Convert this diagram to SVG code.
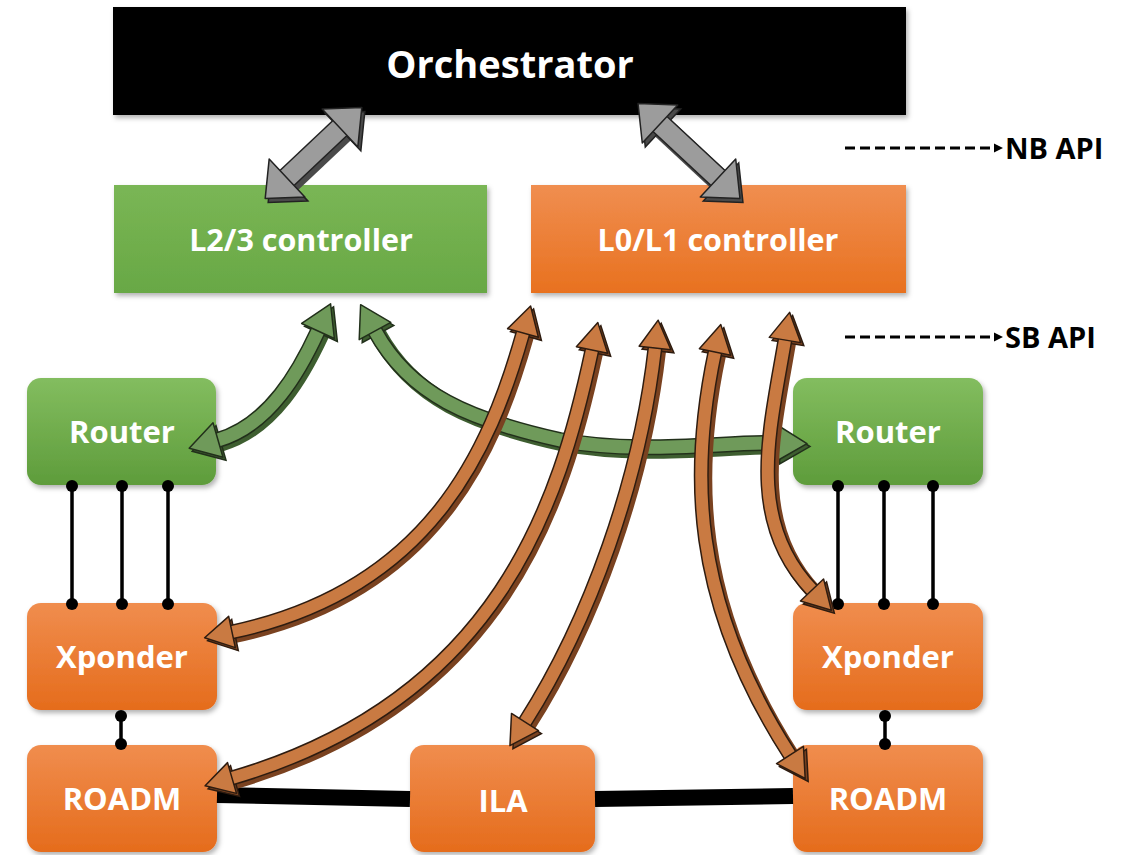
<svg xmlns="http://www.w3.org/2000/svg" width="1125" height="855" viewBox="0 0 1125 855">
  <style>
    .lbl { font-family: "Open Sans", Lato, "Liberation Sans", sans-serif; font-weight: bold; fill: #ffffff; text-anchor: middle; dominant-baseline: central; }
    .api { font-family: "Open Sans", Lato, "Liberation Sans", sans-serif; font-weight: bold; fill: #000000; font-size: 29px; dominant-baseline: central; }
    .link { stroke: #000; stroke-width: 3.5; fill: none; }
    .dot { fill: #000; }
    .dash { stroke: #000; stroke-width: 3; stroke-dasharray: 10 5; fill: none; }
    .o-side { fill: none; stroke: #7a4220; stroke-width: 16; transform: translate(3px, 3px); }
    .o-edge { fill: none; stroke: #2e1c10; stroke-width: 15; }
    .o-face { fill: none; stroke: #c97a42; stroke-width: 12; }
    .g-side { fill: none; stroke: #3e5e30; stroke-width: 17; transform: translate(3px, 3px); }
    .g-edge { fill: none; stroke: #22301b; stroke-width: 16; }
    .g-face { fill: none; stroke: #6f9a5a; stroke-width: 13; }
    .k-side { fill: none; stroke: #4a4a4a; stroke-width: 23; transform: translate(3px, 4px); }
    .k-edge { fill: none; stroke: #222; stroke-width: 22; }
    .k-face { fill: none; stroke: #9c9c9c; stroke-width: 19; }
  </style>
  <defs>
    <linearGradient id="gOrange" x1="0" y1="0" x2="0" y2="1">
      <stop offset="0" stop-color="#f08d4e"/>
      <stop offset="1" stop-color="#e56c1c"/>
    </linearGradient>
    <linearGradient id="gGreen" x1="0" y1="0" x2="0" y2="1">
      <stop offset="0" stop-color="#83bd5f"/>
      <stop offset="1" stop-color="#5e9c3b"/>
    </linearGradient>
    <linearGradient id="gCtlGreen" x1="0" y1="0" x2="0" y2="1">
      <stop offset="0" stop-color="#7ab655"/>
      <stop offset="1" stop-color="#68a845"/>
    </linearGradient>
    <linearGradient id="gCtlOrange" x1="0" y1="0" x2="0" y2="1">
      <stop offset="0" stop-color="#f08e50"/>
      <stop offset="1" stop-color="#e8711f"/>
    </linearGradient>
    <filter id="shadow" x="-10%" y="-10%" width="125%" height="130%">
      <feDropShadow dx="2" dy="3" stdDeviation="2.5" flood-color="#000" flood-opacity="0.3"/>
    </filter>

    <!-- arrowheads: face and side colours per arrow family -->
    <marker id="hO" viewBox="-2 -20 34 40" markerWidth="34" markerHeight="40" refX="0" refY="0" orient="auto-start-reverse" markerUnits="userSpaceOnUse">
      <path d="M0,-16 L28,0 L0,16 Z" fill="#c97a42" stroke="#2e1c10" stroke-width="1.5" stroke-linejoin="round"/>
    </marker>
    <marker id="hOs" viewBox="-2 -20 34 40" markerWidth="34" markerHeight="40" refX="0" refY="0" orient="auto-start-reverse" markerUnits="userSpaceOnUse">
      <path d="M0,-16 L28,0 L0,16 Z" fill="#7a4220" stroke="#2e1c10" stroke-width="1.5"/>
    </marker>
    <marker id="hG" viewBox="-2 -22 36 44" markerWidth="36" markerHeight="44" refX="0" refY="0" orient="auto-start-reverse" markerUnits="userSpaceOnUse">
      <path d="M0,-18 L30,0 L0,18 Z" fill="#6f9a5a" stroke="#22301b" stroke-width="1.5" stroke-linejoin="round"/>
    </marker>
    <marker id="hGs" viewBox="-2 -22 36 44" markerWidth="36" markerHeight="44" refX="0" refY="0" orient="auto-start-reverse" markerUnits="userSpaceOnUse">
      <path d="M0,-18 L30,0 L0,18 Z" fill="#3e5e30" stroke="#22301b" stroke-width="1.5"/>
    </marker>
    <marker id="hK" viewBox="-2 -30 36 60" markerWidth="36" markerHeight="60" refX="0" refY="0" orient="auto-start-reverse" markerUnits="userSpaceOnUse">
      <path d="M0,-26 L30,0 L0,26 Z" fill="#9c9c9c" stroke="#222" stroke-width="1.5" stroke-linejoin="round"/>
    </marker>
    <marker id="hKs" viewBox="-2 -30 36 60" markerWidth="36" markerHeight="60" refX="0" refY="0" orient="auto-start-reverse" markerUnits="userSpaceOnUse">
      <path d="M0,-26 L30,0 L0,26 Z" fill="#4a4a4a" stroke="#222" stroke-width="1.5"/>
    </marker>
    <marker id="hApi" viewBox="0 -5 10 10" markerWidth="10" markerHeight="10" refX="0" refY="0" orient="auto" markerUnits="userSpaceOnUse">
      <path d="M0,-4.5 L9,0 L0,4.5 Z" fill="#000"/>
    </marker>
  </defs>

  <rect width="1125" height="855" fill="#ffffff"/>

  <!-- node boxes -->
  <g id="orchestrator">
    <rect x="113" y="7" width="793" height="108" fill="#000" filter="url(#shadow)"/>
    <text class="lbl" x="510" y="63" font-size="38">Orchestrator</text>
  </g>
  <g id="l23-controller">
    <rect x="114" y="185" width="373" height="108" fill="url(#gCtlGreen)" filter="url(#shadow)"/>
    <text class="lbl" x="301" y="239" font-size="30.5">L2/3 controller</text>
  </g>
  <g id="l01-controller">
    <rect x="531" y="185" width="375" height="108" fill="url(#gCtlOrange)" filter="url(#shadow)"/>
    <text class="lbl" x="718" y="239" font-size="30.5">L0/L1 controller</text>
  </g>
  <g id="router-left">
    <rect x="27" y="378" width="189" height="107" rx="14" fill="url(#gGreen)" filter="url(#shadow)"/>
    <text class="lbl" x="122" y="431" font-size="31">Router</text>
  </g>
  <g id="router-right">
    <rect x="793" y="378" width="190" height="107" rx="14" fill="url(#gGreen)" filter="url(#shadow)"/>
    <text class="lbl" x="888" y="431" font-size="31">Router</text>
  </g>
  <g id="xponder-left">
    <rect x="27" y="603" width="190" height="107" rx="14" fill="url(#gOrange)" filter="url(#shadow)"/>
    <text class="lbl" x="122" y="656" font-size="31">Xponder</text>
  </g>
  <g id="xponder-right">
    <rect x="793" y="603" width="190" height="107" rx="14" fill="url(#gOrange)" filter="url(#shadow)"/>
    <text class="lbl" x="888" y="656" font-size="31">Xponder</text>
  </g>
  <g id="roadm-left">
    <rect x="27" y="745" width="190" height="107" rx="14" fill="url(#gOrange)" filter="url(#shadow)"/>
    <text class="lbl" x="122" y="798" font-size="31">ROADM</text>
  </g>
  <g id="ila">
    <rect x="410" y="745" width="185" height="107" rx="14" fill="url(#gOrange)" filter="url(#shadow)"/>
    <text class="lbl" x="503" y="800" font-size="31">ILA</text>
  </g>
  <g id="roadm-right">
    <rect x="793" y="745" width="190" height="107" rx="14" fill="url(#gOrange)" filter="url(#shadow)"/>
    <text class="lbl" x="888" y="798" font-size="31">ROADM</text>
  </g>

  <!-- API legend -->
  <g id="legend">
    <path class="dash" d="M845,148 L994,148" marker-end="url(#hApi)"/>
    <text class="api" x="1005" y="147">NB API</text>
    <path class="dash" d="M845,337 L994,337" marker-end="url(#hApi)"/>
    <text class="api" x="1005" y="336">SB API</text>
  </g>

  <g id="connectors">
    <!-- router to transponder client links -->
    <g id="client-links">
      <path class="link" d="M72,485 V604 M122,485 V604 M168,485 V604 M838,485 V604 M884,485 V604 M933,485 V604"/>
      <circle class="dot" cx="72" cy="486" r="6"/><circle class="dot" cx="122" cy="486" r="6"/><circle class="dot" cx="168" cy="486" r="6"/>
      <circle class="dot" cx="72" cy="604" r="6"/><circle class="dot" cx="122" cy="604" r="6"/><circle class="dot" cx="168" cy="604" r="6"/>
      <circle class="dot" cx="838" cy="486" r="6"/><circle class="dot" cx="884" cy="486" r="6"/><circle class="dot" cx="933" cy="486" r="6"/>
      <circle class="dot" cx="838" cy="604" r="6"/><circle class="dot" cx="884" cy="604" r="6"/><circle class="dot" cx="933" cy="604" r="6"/>
    </g>
    <!-- transponder to ROADM links -->
    <g id="line-links">
      <path class="link" d="M121,714 V745 M885,714 V745"/>
      <circle class="dot" cx="121" cy="716" r="6"/><circle class="dot" cx="121" cy="744" r="6"/>
      <circle class="dot" cx="885" cy="716" r="6"/><circle class="dot" cx="885" cy="744" r="6"/>
    </g>
    <!-- fibre spans -->
    <g id="fibre">
      <path d="M217,795 L410,799" stroke="#000" stroke-width="16" fill="none"/>
      <path d="M595,799 L793,796" stroke="#000" stroke-width="16" fill="none"/>
    </g>

    <!-- northbound interfaces -->
    <g id="nb-arrows">
      <path class="k-side" d="M340,128 L287,178" marker-start="url(#hKs)" marker-end="url(#hKs)"/>
      <path class="k-edge" d="M340,128 L287,178"/>
      <path class="k-face" d="M340,128 L287,178" marker-start="url(#hK)" marker-end="url(#hK)"/>
      <path class="k-side" d="M660,124 L718,178" marker-start="url(#hKs)" marker-end="url(#hKs)"/>
      <path class="k-edge" d="M660,124 L718,178"/>
      <path class="k-face" d="M660,124 L718,178" marker-start="url(#hK)" marker-end="url(#hK)"/>
    </g>

    <!-- southbound interfaces, L2/3 -->
    <g id="sb-green">
      <path class="g-side" d="M375,331 C410,395 470,420 560,440 C640,455 720,442 777,443" marker-start="url(#hGs)" marker-end="url(#hGs)"/>
      <path class="g-edge" d="M375,331 C410,395 470,420 560,440 C640,455 720,442 777,443"/>
      <path class="g-face" d="M375,331 C410,395 470,420 560,440 C640,455 720,442 777,443" marker-start="url(#hG)" marker-end="url(#hG)"/>
      <path class="g-side" d="M318,331 C300,370 270,425 218,440" marker-start="url(#hGs)" marker-end="url(#hGs)"/>
      <path class="g-edge" d="M318,331 C300,370 270,425 218,440"/>
      <path class="g-face" d="M318,331 C300,370 270,425 218,440" marker-start="url(#hG)" marker-end="url(#hG)"/>
    </g>

    <!-- southbound interfaces, L0/L1 -->
    <g id="sb-orange">
      <path class="o-side" d="M523,333 C490,450 430,590 232,632" marker-start="url(#hOs)" marker-end="url(#hOs)"/>
      <path class="o-edge" d="M523,333 C490,450 430,590 232,632"/>
      <path class="o-face" d="M523,333 C490,450 430,590 232,632" marker-start="url(#hO)" marker-end="url(#hO)"/>

      <path class="o-side" d="M592,350 C560,500 500,700 232,778" marker-start="url(#hOs)" marker-end="url(#hOs)"/>
      <path class="o-edge" d="M592,350 C560,500 500,700 232,778"/>
      <path class="o-face" d="M592,350 C560,500 500,700 232,778" marker-start="url(#hO)" marker-end="url(#hO)"/>

      <path class="o-side" d="M655,348 C640,480 590,620 525,722" marker-start="url(#hOs)" marker-end="url(#hOs)"/>
      <path class="o-edge" d="M655,348 C640,480 590,620 525,722"/>
      <path class="o-face" d="M655,348 C640,480 590,620 525,722" marker-start="url(#hO)" marker-end="url(#hO)"/>

      <path class="o-side" d="M715,352 C690,470 690,600 790,755" marker-start="url(#hOs)" marker-end="url(#hOs)"/>
      <path class="o-edge" d="M715,352 C690,470 690,600 790,755"/>
      <path class="o-face" d="M715,352 C690,470 690,600 790,755" marker-start="url(#hO)" marker-end="url(#hO)"/>

      <path class="o-side" d="M785,340 C770,430 745,520 812,590" marker-start="url(#hOs)" marker-end="url(#hOs)"/>
      <path class="o-edge" d="M785,340 C770,430 745,520 812,590"/>
      <path class="o-face" d="M785,340 C770,430 745,520 812,590" marker-start="url(#hO)" marker-end="url(#hO)"/>
    </g>
  </g>
</svg>
